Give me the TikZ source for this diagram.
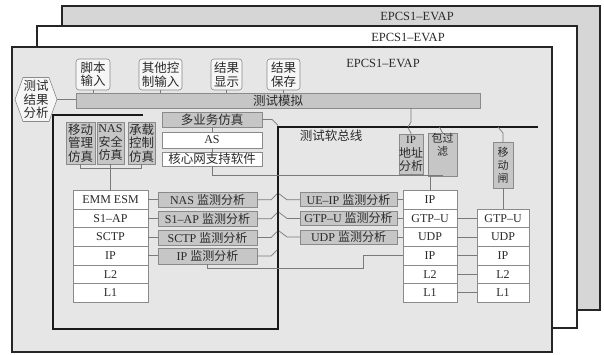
\documentclass[tikz,border=0pt]{standalone}
\usepackage{fontspec}
\setmainfont{Liberation Serif}
\newfontfamily\cjk{Noto Sans CJK SC}
\newcommand\zh[1]{{\cjk #1}}
\usetikzlibrary{shapes.symbols}
\definecolor{bgback}{HTML}{D6D6D6}
\definecolor{bgfront}{HTML}{E6E6E6}
\definecolor{boxgray}{HTML}{C6C6C6}
\definecolor{linegray}{HTML}{8A8A8A}
\definecolor{conngray}{HTML}{7A7A7A}
\definecolor{txt}{HTML}{2A2A2A}
\definecolor{topfill}{HTML}{F6F6F6}
\tikzset{
  box/.style={draw=linegray, line width=0.6pt, inner sep=0pt, outer sep=0pt, anchor=north west, align=center, text=txt, font=\fontsize{12}{13.5}\selectfont},
  gbox/.style={box, fill=boxgray},
  wbox/.style={box, fill=white},
  rbox/.style={box, fill=topfill, rounded corners=3pt},
  zhtxt/.style={font=\cjk\fontsize{12.5}{13.5}\selectfont},
  smalltxt/.style={font=\cjk\fontsize{11}{13}\selectfont},
  conn/.style={draw=conngray, line width=0.7pt},
  bus/.style={draw=black!90, line width=2.4pt},
  frame/.style={draw=black!85, line width=2pt},
  flabel/.style={text=txt, font=\fontsize{12.5}{13}\selectfont, inner sep=0pt}
}
\newcommand\mkbox[6]{\node[#1, minimum width=#4pt, minimum height=#5pt] (#2) at (#3) {#6};}
\begin{document}
\begin{tikzpicture}[x=1pt,y=-1pt]
\useasboundingbox (0,0) rectangle (604,355);
% frames
\draw[frame, fill=bgback] (62,6) rectangle (600,310);
\node[flabel] (lab1) at (417,16) {EPCS1--EVAP};
\draw[frame, fill=white] (37,26) rectangle (577,328);
\node[flabel] (lab2) at (408,37) {EPCS1--EVAP};
\draw[frame, fill=bgfront] (12,47) rectangle (552,352);
\node[flabel] (lab3) at (383,63) {EPCS1--EVAP};

% top inputs
\mkbox{rbox,zhtxt}{in1}{76,59}{34}{31}{脚本\\输入}
\mkbox{rbox,zhtxt}{in2}{139,59}{43}{31}{其他控\\制输入}
\mkbox{rbox,zhtxt}{in3}{211,59}{31}{31}{结果\\显示}
\mkbox{rbox,zhtxt}{in4}{267,59}{33}{31}{结果\\保存}
\mkbox{gbox,zhtxt}{bar}{76,93}{404}{15}{测试模拟}
\foreach \n in {in1,in2,in3,in4}{\draw[conn] (\n.south) -- (\n.south |- bar.north);}

% hexagon
\node[signal, signal to=west and east, signal pointer angle=140, draw=linegray, line width=0.6pt, fill=topfill, inner sep=0pt, minimum width=42pt, minimum height=44pt, align=center, text=txt, font=\cjk\fontsize{12.5}{13.5}\selectfont] (hex) at (36,99.5) {测试\\结果\\分析};
\draw[conn] (hex.east) -- (hex.east -| bar.west);

% bus
\draw[bus] (143,115) -- (53,115) -- (53,329) -- (278,329) -- (278,127) -- (538,127);
\node[text=txt, font=\cjk\fontsize{12.5}{13.5}\selectfont, inner sep=0pt] (buslab) at (331,136) {测试软总线};

% left sims
\mkbox{gbox,zhtxt}{sim1}{66,122}{29}{42}{移动\\管理\\仿真}
\mkbox{gbox}{sim2}{97,122}{27}{42}{NAS\\\zh{安全}\\\zh{仿真}}
\mkbox{gbox,zhtxt}{sim3}{128,122}{27}{42}{承载\\控制\\仿真}

% middle
\mkbox{gbox,zhtxt}{mss}{162,112}{100}{15}{多业务仿真}
\mkbox{wbox}{as}{162,132}{100}{16}{AS}
\mkbox{wbox,zhtxt}{cn}{162,152}{100}{14}{核心网支持软件}
\draw[conn] (mss.south) -- (as.north);
\draw[conn] (as.south) -- (cn.north);

% right top
\mkbox{gbox}{ipa}{399,134}{24}{40}{\fontsize{11}{13}\selectfont IP\\\zh{地址}\\\zh{分析}}
\mkbox{gbox,smalltxt}{pf}{428,133}{29}{41}{包过\\滤\\[8pt]}
\mkbox{gbox,smalltxt}{gate}{493,142}{20}{46}{移\\动\\闸}

% left stack
\mkbox{wbox}{s1}{73,190.5}{75}{18.6}{EMM ESM}
\mkbox{wbox}{s2}{73,209.1}{75}{18.6}{S1--AP}
\mkbox{wbox}{s3}{73,227.7}{75}{18.6}{SCTP}
\mkbox{wbox}{s4}{73,246.3}{75}{18.6}{IP}
\mkbox{wbox}{s5}{73,264.9}{75}{18.6}{L2}
\mkbox{wbox}{s6}{73,283.5}{75}{18.6}{L1}

% right stack A
\mkbox{wbox}{a1}{403,190.5}{54}{18.6}{IP}
\mkbox{wbox}{a2}{403,209.1}{54}{18.6}{GTP--U}
\mkbox{wbox}{a3}{403,227.7}{54}{18.6}{UDP}
\mkbox{wbox}{a4}{403,246.3}{54}{18.6}{IP}
\mkbox{wbox}{a5}{403,264.9}{54}{18.6}{L2}
\mkbox{wbox}{a6}{403,283.5}{54}{18.6}{L1}

% right stack B
\mkbox{wbox}{b2}{477,209.1}{52}{18.6}{GTP--U}
\mkbox{wbox}{b3}{477,227.7}{52}{18.6}{UDP}
\mkbox{wbox}{b4}{477,246.3}{52}{18.6}{IP}
\mkbox{wbox}{b5}{477,264.9}{52}{18.6}{L2}
\mkbox{wbox}{b6}{477,283.5}{52}{18.6}{L1}

% monitors left
\mkbox{gbox}{m1}{158,192.3}{99}{15}{NAS \zh{监测分析}}
\mkbox{gbox}{m2}{158,211.3}{99}{15}{S1--AP \zh{监测分析}}
\mkbox{gbox}{m3}{158,230}{99}{15}{SCTP \zh{监测分析}}
\mkbox{gbox}{m4}{158,248}{99}{16}{IP \zh{监测分析}}
% monitors right
\mkbox{gbox}{r1}{300,192.8}{97}{14}{UE--IP \zh{监测分析}}
\mkbox{gbox}{r2}{300,211.4}{97}{14}{GTP--U \zh{监测分析}}
\mkbox{gbox}{r3}{300,230}{97}{14}{UDP \zh{监测分析}}

% connectors
\draw[conn] (sim1.south) |- (sim3.south |- 0,168) -- (sim3.south);
\draw[conn] (sim2.south) -- (sim2.south |- s1.north);
\draw[conn] (cn.south) |- (ipa.south |- 0,175.5);
\draw[conn] (ipa.south) |- (pf.south |- 0,175.5) -- (pf.south);
\draw[conn] (a1.north) -- (a1.north |- 0,175.5);
\draw[conn] (mss.east) -- ++(10,0) -- ++(6,6);
\draw[conn] (bar.south -| ipa.north) -- ++(0,14) -- ++(-3,5);
\draw[conn] (ipa.north) -- ++(0,-1) -- ++(-3,-5);
\draw[conn] (pf.north) -- ++(-3,-6);
\draw[conn] (gate.north) -- ++(0,-9) -- ++(-5,-6);
\draw[conn] (gate.south) -- (b2.north);
\foreach \i in {1,2,3,4}{
  \draw[conn] (s\i.east) -- (s\i.east -| m\i.west);
  \draw[conn] (m\i.east) -- ++(14,0) -- ++(6,-6);
}
\foreach \i/\j in {1/1,2/2,3/3}{
  \draw[conn] (r\i.west) -- ++(-13,0) -- ++(-8,-6);
  \draw[conn] (r\i.east) -- (r\i.east -| a\j.west);
}
\draw[conn] (m4.south) |- (363,268) |- (a4.west);
\foreach \i in {2,3,4,5,6}{\draw[conn] (a\i.east) -- (b\i.west);}
\end{tikzpicture}
\end{document}
